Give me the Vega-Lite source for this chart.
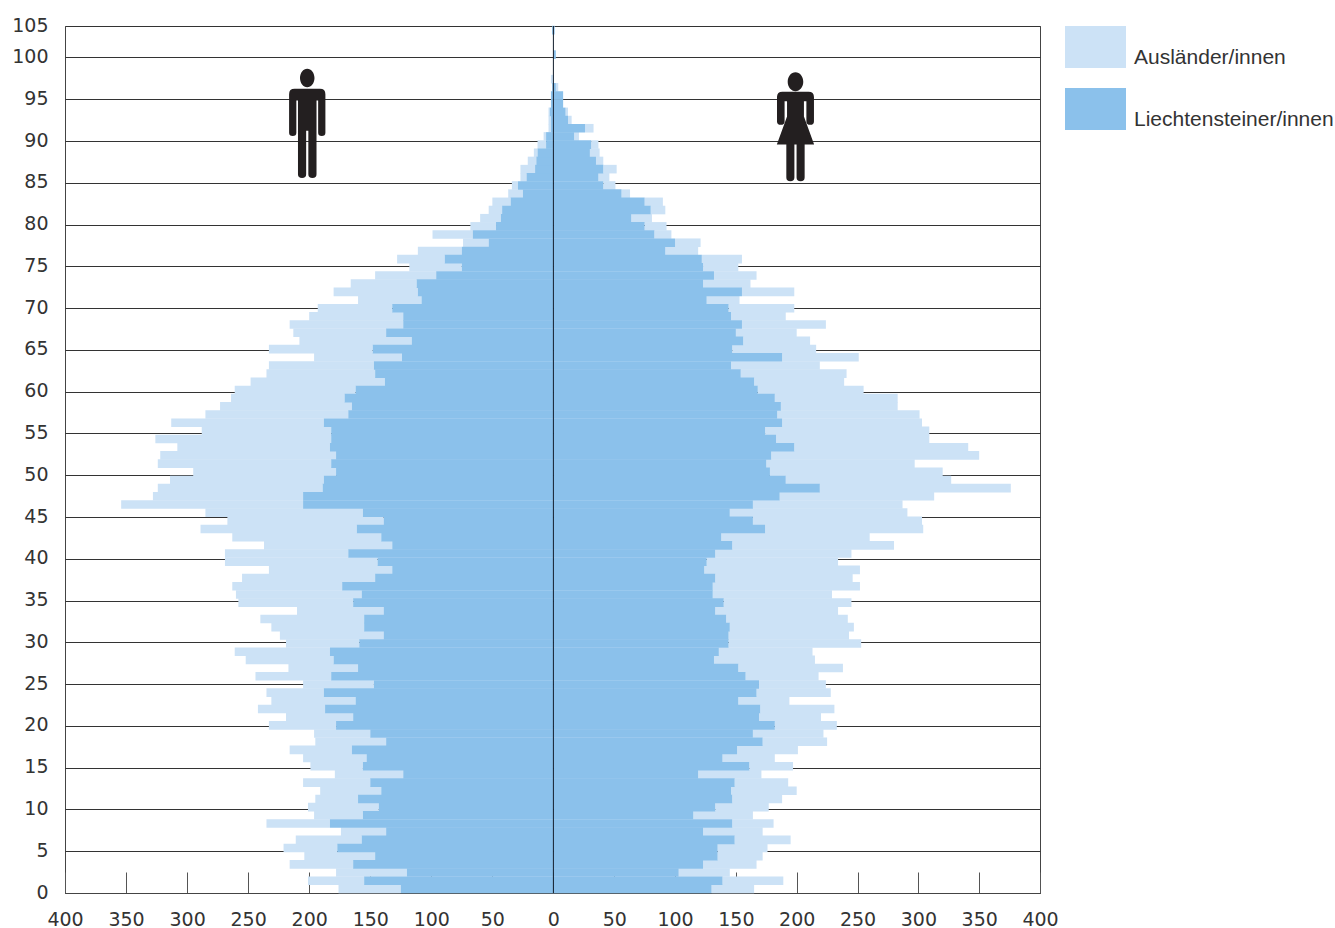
{"$schema":"https://vega.github.io/schema/vega-lite/v6.json","width":975,"height":867,"autosize":{"type":"none"},"padding":{"left":65,"top":26,"right":295,"bottom":35},"background":"white","config":{"view":{"stroke":"#444","strokeWidth":1},"axis":{"labelFont":"DejaVu Sans","labelFontSize":19,"labelColor":"#333"}},
"encoding":{"x":{"type":"quantitative","scale":{"domain":[-400,0,400],"range":[0,488.4,975]},"axis":{"title":null,"values":[-400,-350,-300,-250,-200,-150,-100,-50,0,50,100,150,200,250,300,350,400],"labelExpr":"abs(datum.value)","tickSize":-21,"tickColor":"#555","tickWidth":1,"domainColor":"#444","labelPadding":38,"labelFlush":false,"grid":false,"labelOverlap":false}}},
"layer":[
{"data":{"name":"pop"},"mark":{"type":"bar","stroke":null,"height":8.6},"encoding":{"y":{"field":"age","type":"ordinal","scale":{"type":"band","paddingInner":0,"paddingOuter":0,"domain":[105,104,103,102,101,100,99,98,97,96,95,94,93,92,91,90,89,88,87,86,85,84,83,82,81,80,79,78,77,76,75,74,73,72,71,70,69,68,67,66,65,64,63,62,61,60,59,58,57,56,55,54,53,52,51,50,49,48,47,46,45,44,43,42,41,40,39,38,37,36,35,34,33,32,31,30,29,28,27,26,25,24,23,22,21,20,19,18,17,16,15,14,13,12,11,10,9,8,7,6,5,4,3,2,1,0]},"axis":null},"x":{"field":"n","type":"quantitative","stack":"zero"},"detail":{"field":"sex"},"order":{"field":"group","sort":"descending"},"color":{"field":"group","type":"nominal","scale":{"domain":["A","L"],"range":["#CCE2F6","#8BC1EB"]},"legend":{"orient":"none","legendX":1000,"legendY":-9.5,"title":null,"symbolType":"M-1,-0.689H1V0.689H-1Z","symbolSize":3721,"symbolStrokeWidth":0,"symbolOpacity":1,"rowPadding":10,"labelOffset":8,"labelBaseline":"top","labelFont":"Liberation Sans","labelFontSize":21,"labelColor":"#333","labelLimit":300,"labelExpr":"datum.value=='A'?'Ausländer/innen':'Liechtensteiner/innen'"}}}},
{"data":{"values":[{}]},"mark":{"type":"rule","color":"#111d2b","strokeWidth":1},"encoding":{"x":{"datum":0,"type":"quantitative"}}},
{"data":{"values":[{"sex":"m","v":-201.6,"y":92.1},{"sex":"w","v":199,"y":91.7}]},"mark":{"type":"point","filled":true,"opacity":1,"size":11881,"color":"#231f20","stroke":null},"encoding":{"x":{"field":"v","type":"quantitative"},"y":{"field":"y","type":"quantitative","scale":{"domain":[0,103.77]},"axis":{"title":null,"values":[0,5,10,15,20,25,30,35,40,45,50,55,60,65,70,75,80,85,90,95,100,103.77],"labelExpr":"datum.value>101?'105':datum.value","grid":true,"gridColor":"#333","gridWidth":1,"domain":false,"ticks":false,"labelPadding":17,"labelOffset":-1,"labelOverlap":false}},"shape":{"field":"sex","type":"nominal","legend":null,"scale":{"domain":["m","w"],"range":["M-0.133,-0.836A0.133,0.17 0 1 1 0.133,-0.836A0.133,0.17 0 1 1 -0.133,-0.836ZM-0.233,-0.636H0.233Q0.333,-0.636 0.333,-0.536V0.17Q0.333,0.23 0.266,0.23Q0.2,0.23 0.2,0.17V-0.42H0.17V0.93Q0.17,1 0.095,1Q0.02,1 0.02,0.93V0.133H-0.02V0.93Q-0.02,1 -0.095,1Q-0.17,1 -0.17,0.93V-0.42H-0.2V0.17Q-0.2,0.23 -0.266,0.23Q-0.333,0.23 -0.333,0.17V-0.536Q-0.333,-0.636 -0.233,-0.636Z","M-0.143,-0.826A0.143,0.174 0 1 1 0.143,-0.826A0.143,0.174 0 1 1 -0.143,-0.826ZM-0.24,-0.646H0.24Q0.339,-0.646 0.339,-0.547V-0.1Q0.339,-0.037 0.27,-0.037Q0.2,-0.037 0.2,-0.1V-0.47H0.155V-0.19L0.342,0.323H0.168V0.93Q0.168,1 0.094,1Q0.02,1 0.02,0.93V0.323H-0.02V0.93Q-0.02,1 -0.094,1Q-0.168,1 -0.168,0.93V0.323H-0.342L-0.155,-0.19V-0.47H-0.2V-0.1Q-0.2,-0.037 -0.27,-0.037Q-0.339,-0.037 -0.339,-0.1V-0.547Q-0.339,-0.646 -0.24,-0.646Z"]}}}}
],
"resolve":{"scale":{"y":"independent"}},
"datasets":{"pop":[
{"age":0,"sex":"m","group":"A","n":-51},{"age":1,"sex":"m","group":"A","n":-46},{"age":2,"sex":"m","group":"A","n":-58},{"age":3,"sex":"m","group":"A","n":-52},{"age":4,"sex":"m","group":"A","n":-58},{"age":5,"sex":"m","group":"A","n":-44},{"age":6,"sex":"m","group":"A","n":-54},{"age":7,"sex":"m","group":"A","n":-37},{"age":8,"sex":"m","group":"A","n":-52},{"age":9,"sex":"m","group":"A","n":-40},
{"age":10,"sex":"m","group":"A","n":-58},{"age":11,"sex":"m","group":"A","n":-35},{"age":12,"sex":"m","group":"A","n":-50},{"age":13,"sex":"m","group":"A","n":-55},{"age":14,"sex":"m","group":"A","n":-56},{"age":15,"sex":"m","group":"A","n":-43},{"age":16,"sex":"m","group":"A","n":-52},{"age":17,"sex":"m","group":"A","n":-51},{"age":18,"sex":"m","group":"A","n":-58},{"age":19,"sex":"m","group":"A","n":-46},
{"age":20,"sex":"m","group":"A","n":-55},{"age":21,"sex":"m","group":"A","n":-55},{"age":22,"sex":"m","group":"A","n":-55},{"age":23,"sex":"m","group":"A","n":-69},{"age":24,"sex":"m","group":"A","n":-47},{"age":25,"sex":"m","group":"A","n":-58},{"age":26,"sex":"m","group":"A","n":-62},{"age":27,"sex":"m","group":"A","n":-57},{"age":28,"sex":"m","group":"A","n":-72},{"age":29,"sex":"m","group":"A","n":-78},
{"age":30,"sex":"m","group":"A","n":-60},{"age":31,"sex":"m","group":"A","n":-85},{"age":32,"sex":"m","group":"A","n":-76},{"age":33,"sex":"m","group":"A","n":-85},{"age":34,"sex":"m","group":"A","n":-71},{"age":35,"sex":"m","group":"A","n":-94},{"age":36,"sex":"m","group":"A","n":-103},{"age":37,"sex":"m","group":"A","n":-90},{"age":38,"sex":"m","group":"A","n":-109},{"age":39,"sex":"m","group":"A","n":-101},
{"age":40,"sex":"m","group":"A","n":-125},{"age":41,"sex":"m","group":"A","n":-101},{"age":42,"sex":"m","group":"A","n":-105},{"age":43,"sex":"m","group":"A","n":-122},{"age":44,"sex":"m","group":"A","n":-128},{"age":45,"sex":"m","group":"A","n":-128},{"age":46,"sex":"m","group":"A","n":-129},{"age":47,"sex":"m","group":"A","n":-149},{"age":48,"sex":"m","group":"A","n":-123},{"age":49,"sex":"m","group":"A","n":-135},
{"age":50,"sex":"m","group":"A","n":-126},{"age":51,"sex":"m","group":"A","n":-117},{"age":52,"sex":"m","group":"A","n":-142},{"age":53,"sex":"m","group":"A","n":-144},{"age":54,"sex":"m","group":"A","n":-125},{"age":55,"sex":"m","group":"A","n":-144},{"age":56,"sex":"m","group":"A","n":-106},{"age":57,"sex":"m","group":"A","n":-125},{"age":58,"sex":"m","group":"A","n":-117},{"age":59,"sex":"m","group":"A","n":-108},
{"age":60,"sex":"m","group":"A","n":-93},{"age":61,"sex":"m","group":"A","n":-99},{"age":62,"sex":"m","group":"A","n":-110},{"age":63,"sex":"m","group":"A","n":-89},{"age":64,"sex":"m","group":"A","n":-86},{"age":65,"sex":"m","group":"A","n":-72},{"age":66,"sex":"m","group":"A","n":-85},{"age":67,"sex":"m","group":"A","n":-92},{"age":68,"sex":"m","group":"A","n":-76},{"age":69,"sex":"m","group":"A","n":-93},
{"age":70,"sex":"m","group":"A","n":-77},{"age":71,"sex":"m","group":"A","n":-61},{"age":72,"sex":"m","group":"A","n":-52},{"age":73,"sex":"m","group":"A","n":-69},{"age":74,"sex":"m","group":"A","n":-54},{"age":75,"sex":"m","group":"A","n":-50},{"age":76,"sex":"m","group":"A","n":-43},{"age":77,"sex":"m","group":"A","n":-39},{"age":78,"sex":"m","group":"A","n":-36},{"age":79,"sex":"m","group":"A","n":-21},
{"age":80,"sex":"m","group":"A","n":-33},{"age":81,"sex":"m","group":"A","n":-21},{"age":82,"sex":"m","group":"A","n":-17},{"age":83,"sex":"m","group":"A","n":-11},{"age":84,"sex":"m","group":"A","n":-15},{"age":85,"sex":"m","group":"A","n":-12},{"age":86,"sex":"m","group":"A","n":-5},{"age":87,"sex":"m","group":"A","n":-5},{"age":88,"sex":"m","group":"A","n":-12},{"age":89,"sex":"m","group":"A","n":-7},
{"age":90,"sex":"m","group":"A","n":-3},{"age":91,"sex":"m","group":"A","n":-7},{"age":92,"sex":"m","group":"A","n":-2},{"age":93,"sex":"m","group":"A","n":-2},{"age":94,"sex":"m","group":"A","n":-2},{"age":95,"sex":"m","group":"A","n":-1},{"age":99,"sex":"m","group":"A","n":-2},
{"age":0,"sex":"w","group":"A","n":35},{"age":1,"sex":"w","group":"A","n":50},{"age":2,"sex":"w","group":"A","n":42},{"age":3,"sex":"w","group":"A","n":44},{"age":4,"sex":"w","group":"A","n":37},{"age":5,"sex":"w","group":"A","n":41},{"age":6,"sex":"w","group":"A","n":46},{"age":7,"sex":"w","group":"A","n":49},{"age":8,"sex":"w","group":"A","n":34},{"age":9,"sex":"w","group":"A","n":49},
{"age":10,"sex":"w","group":"A","n":44},{"age":11,"sex":"w","group":"A","n":41},{"age":12,"sex":"w","group":"A","n":54},{"age":13,"sex":"w","group":"A","n":44},{"age":14,"sex":"w","group":"A","n":52},{"age":15,"sex":"w","group":"A","n":36},{"age":16,"sex":"w","group":"A","n":43},{"age":17,"sex":"w","group":"A","n":50},{"age":18,"sex":"w","group":"A","n":53},{"age":19,"sex":"w","group":"A","n":58},
{"age":20,"sex":"w","group":"A","n":51},{"age":21,"sex":"w","group":"A","n":51},{"age":22,"sex":"w","group":"A","n":61},{"age":23,"sex":"w","group":"A","n":42},{"age":24,"sex":"w","group":"A","n":61},{"age":25,"sex":"w","group":"A","n":55},{"age":26,"sex":"w","group":"A","n":60},{"age":27,"sex":"w","group":"A","n":86},{"age":28,"sex":"w","group":"A","n":83},{"age":29,"sex":"w","group":"A","n":77},
{"age":30,"sex":"w","group":"A","n":109},{"age":31,"sex":"w","group":"A","n":99},{"age":32,"sex":"w","group":"A","n":102},{"age":33,"sex":"w","group":"A","n":100},{"age":34,"sex":"w","group":"A","n":101},{"age":35,"sex":"w","group":"A","n":105},{"age":36,"sex":"w","group":"A","n":98},{"age":37,"sex":"w","group":"A","n":121},{"age":38,"sex":"w","group":"A","n":113},{"age":39,"sex":"w","group":"A","n":128},
{"age":40,"sex":"w","group":"A","n":108},{"age":41,"sex":"w","group":"A","n":112},{"age":42,"sex":"w","group":"A","n":133},{"age":43,"sex":"w","group":"A","n":122},{"age":44,"sex":"w","group":"A","n":130},{"age":45,"sex":"w","group":"A","n":139},{"age":46,"sex":"w","group":"A","n":146},{"age":47,"sex":"w","group":"A","n":123},{"age":48,"sex":"w","group":"A","n":127},{"age":49,"sex":"w","group":"A","n":157},
{"age":50,"sex":"w","group":"A","n":136},{"age":51,"sex":"w","group":"A","n":142},{"age":52,"sex":"w","group":"A","n":122},{"age":53,"sex":"w","group":"A","n":171},{"age":54,"sex":"w","group":"A","n":143},{"age":55,"sex":"w","group":"A","n":126},{"age":56,"sex":"w","group":"A","n":135},{"age":57,"sex":"w","group":"A","n":115},{"age":58,"sex":"w","group":"A","n":117},{"age":59,"sex":"w","group":"A","n":96},
{"age":60,"sex":"w","group":"A","n":101},{"age":61,"sex":"w","group":"A","n":87},{"age":62,"sex":"w","group":"A","n":74},{"age":63,"sex":"w","group":"A","n":87},{"age":64,"sex":"w","group":"A","n":73},{"age":65,"sex":"w","group":"A","n":63},{"age":66,"sex":"w","group":"A","n":69},{"age":67,"sex":"w","group":"A","n":55},{"age":68,"sex":"w","group":"A","n":50},{"age":69,"sex":"w","group":"A","n":69},
{"age":70,"sex":"w","group":"A","n":45},{"age":71,"sex":"w","group":"A","n":54},{"age":72,"sex":"w","group":"A","n":27},{"age":73,"sex":"w","group":"A","n":43},{"age":74,"sex":"w","group":"A","n":39},{"age":75,"sex":"w","group":"A","n":35},{"age":76,"sex":"w","group":"A","n":29},{"age":77,"sex":"w","group":"A","n":33},{"age":78,"sex":"w","group":"A","n":27},{"age":79,"sex":"w","group":"A","n":21},
{"age":80,"sex":"w","group":"A","n":14},{"age":81,"sex":"w","group":"A","n":18},{"age":82,"sex":"w","group":"A","n":17},{"age":83,"sex":"w","group":"A","n":12},{"age":84,"sex":"w","group":"A","n":15},{"age":85,"sex":"w","group":"A","n":7},{"age":86,"sex":"w","group":"A","n":10},{"age":87,"sex":"w","group":"A","n":9},{"age":88,"sex":"w","group":"A","n":11},{"age":89,"sex":"w","group":"A","n":6},
{"age":90,"sex":"w","group":"A","n":8},{"age":91,"sex":"w","group":"A","n":6},{"age":92,"sex":"w","group":"A","n":4},{"age":93,"sex":"w","group":"A","n":7},{"age":94,"sex":"w","group":"A","n":3},{"age":95,"sex":"w","group":"A","n":2},{"age":98,"sex":"w","group":"A","n":2},
{"age":0,"sex":"m","group":"L","n":-125},{"age":1,"sex":"m","group":"L","n":-155},{"age":2,"sex":"m","group":"L","n":-120},{"age":3,"sex":"m","group":"L","n":-164},{"age":4,"sex":"m","group":"L","n":-146},{"age":5,"sex":"m","group":"L","n":-177},{"age":6,"sex":"m","group":"L","n":-157},{"age":7,"sex":"m","group":"L","n":-137},{"age":8,"sex":"m","group":"L","n":-183},{"age":9,"sex":"m","group":"L","n":-156},
{"age":10,"sex":"m","group":"L","n":-143},{"age":11,"sex":"m","group":"L","n":-160},{"age":12,"sex":"m","group":"L","n":-141},{"age":13,"sex":"m","group":"L","n":-150},{"age":14,"sex":"m","group":"L","n":-123},{"age":15,"sex":"m","group":"L","n":-156},{"age":16,"sex":"m","group":"L","n":-153},{"age":17,"sex":"m","group":"L","n":-165},{"age":18,"sex":"m","group":"L","n":-137},{"age":19,"sex":"m","group":"L","n":-150},
{"age":20,"sex":"m","group":"L","n":-178},{"age":21,"sex":"m","group":"L","n":-164},{"age":22,"sex":"m","group":"L","n":-187},{"age":23,"sex":"m","group":"L","n":-162},{"age":24,"sex":"m","group":"L","n":-188},{"age":25,"sex":"m","group":"L","n":-147},{"age":26,"sex":"m","group":"L","n":-182},{"age":27,"sex":"m","group":"L","n":-160},{"age":28,"sex":"m","group":"L","n":-180},{"age":29,"sex":"m","group":"L","n":-183},
{"age":30,"sex":"m","group":"L","n":-159},{"age":31,"sex":"m","group":"L","n":-139},{"age":32,"sex":"m","group":"L","n":-155},{"age":33,"sex":"m","group":"L","n":-155},{"age":34,"sex":"m","group":"L","n":-139},{"age":35,"sex":"m","group":"L","n":-164},{"age":36,"sex":"m","group":"L","n":-157},{"age":37,"sex":"m","group":"L","n":-173},{"age":38,"sex":"m","group":"L","n":-146},{"age":39,"sex":"m","group":"L","n":-132},
{"age":40,"sex":"m","group":"L","n":-144},{"age":41,"sex":"m","group":"L","n":-168},{"age":42,"sex":"m","group":"L","n":-132},{"age":43,"sex":"m","group":"L","n":-141},{"age":44,"sex":"m","group":"L","n":-161},{"age":45,"sex":"m","group":"L","n":-139},{"age":46,"sex":"m","group":"L","n":-156},{"age":47,"sex":"m","group":"L","n":-205},{"age":48,"sex":"m","group":"L","n":-205},{"age":49,"sex":"m","group":"L","n":-189},
{"age":50,"sex":"m","group":"L","n":-188},{"age":51,"sex":"m","group":"L","n":-178},{"age":52,"sex":"m","group":"L","n":-182},{"age":53,"sex":"m","group":"L","n":-178},{"age":54,"sex":"m","group":"L","n":-183},{"age":55,"sex":"m","group":"L","n":-182},{"age":56,"sex":"m","group":"L","n":-182},{"age":57,"sex":"m","group":"L","n":-188},{"age":58,"sex":"m","group":"L","n":-168},{"age":59,"sex":"m","group":"L","n":-165},
{"age":60,"sex":"m","group":"L","n":-171},{"age":61,"sex":"m","group":"L","n":-162},{"age":62,"sex":"m","group":"L","n":-138},{"age":63,"sex":"m","group":"L","n":-146},{"age":64,"sex":"m","group":"L","n":-147},{"age":65,"sex":"m","group":"L","n":-124},{"age":66,"sex":"m","group":"L","n":-148},{"age":67,"sex":"m","group":"L","n":-116},{"age":68,"sex":"m","group":"L","n":-137},{"age":69,"sex":"m","group":"L","n":-123},
{"age":70,"sex":"m","group":"L","n":-123},{"age":71,"sex":"m","group":"L","n":-132},{"age":72,"sex":"m","group":"L","n":-108},{"age":73,"sex":"m","group":"L","n":-111},{"age":74,"sex":"m","group":"L","n":-112},{"age":75,"sex":"m","group":"L","n":-96},{"age":76,"sex":"m","group":"L","n":-75},{"age":77,"sex":"m","group":"L","n":-89},{"age":78,"sex":"m","group":"L","n":-75},{"age":79,"sex":"m","group":"L","n":-53},
{"age":80,"sex":"m","group":"L","n":-66},{"age":81,"sex":"m","group":"L","n":-47},{"age":82,"sex":"m","group":"L","n":-43},{"age":83,"sex":"m","group":"L","n":-42},{"age":84,"sex":"m","group":"L","n":-35},{"age":85,"sex":"m","group":"L","n":-25},{"age":86,"sex":"m","group":"L","n":-29},{"age":87,"sex":"m","group":"L","n":-22},{"age":88,"sex":"m","group":"L","n":-15},{"age":89,"sex":"m","group":"L","n":-14},
{"age":90,"sex":"m","group":"L","n":-13},{"age":91,"sex":"m","group":"L","n":-6},{"age":92,"sex":"m","group":"L","n":-6},{"age":93,"sex":"m","group":"L","n":-2},{"age":94,"sex":"m","group":"L","n":-2},{"age":95,"sex":"m","group":"L","n":-3},{"age":96,"sex":"m","group":"L","n":-2},{"age":97,"sex":"m","group":"L","n":-2},{"age":98,"sex":"m","group":"L","n":-1},{"age":105,"sex":"m","group":"L","n":-1},
{"age":0,"sex":"w","group":"L","n":130},{"age":1,"sex":"w","group":"L","n":139},{"age":2,"sex":"w","group":"L","n":103},{"age":3,"sex":"w","group":"L","n":123},{"age":4,"sex":"w","group":"L","n":135},{"age":5,"sex":"w","group":"L","n":135},{"age":6,"sex":"w","group":"L","n":149},{"age":7,"sex":"w","group":"L","n":123},{"age":8,"sex":"w","group":"L","n":147},{"age":9,"sex":"w","group":"L","n":115},
{"age":10,"sex":"w","group":"L","n":133},{"age":11,"sex":"w","group":"L","n":147},{"age":12,"sex":"w","group":"L","n":146},{"age":13,"sex":"w","group":"L","n":149},{"age":14,"sex":"w","group":"L","n":119},{"age":15,"sex":"w","group":"L","n":161},{"age":16,"sex":"w","group":"L","n":139},{"age":17,"sex":"w","group":"L","n":151},{"age":18,"sex":"w","group":"L","n":172},{"age":19,"sex":"w","group":"L","n":164},
{"age":20,"sex":"w","group":"L","n":182},{"age":21,"sex":"w","group":"L","n":169},{"age":22,"sex":"w","group":"L","n":170},{"age":23,"sex":"w","group":"L","n":152},{"age":24,"sex":"w","group":"L","n":167},{"age":25,"sex":"w","group":"L","n":169},{"age":26,"sex":"w","group":"L","n":158},{"age":27,"sex":"w","group":"L","n":152},{"age":28,"sex":"w","group":"L","n":132},{"age":29,"sex":"w","group":"L","n":136},
{"age":30,"sex":"w","group":"L","n":144},{"age":31,"sex":"w","group":"L","n":144},{"age":32,"sex":"w","group":"L","n":145},{"age":33,"sex":"w","group":"L","n":142},{"age":34,"sex":"w","group":"L","n":133},{"age":35,"sex":"w","group":"L","n":140},{"age":36,"sex":"w","group":"L","n":131},{"age":37,"sex":"w","group":"L","n":131},{"age":38,"sex":"w","group":"L","n":133},{"age":39,"sex":"w","group":"L","n":124},
{"age":40,"sex":"w","group":"L","n":126},{"age":41,"sex":"w","group":"L","n":133},{"age":42,"sex":"w","group":"L","n":147},{"age":43,"sex":"w","group":"L","n":138},{"age":44,"sex":"w","group":"L","n":174},{"age":45,"sex":"w","group":"L","n":164},{"age":46,"sex":"w","group":"L","n":145},{"age":47,"sex":"w","group":"L","n":164},{"age":48,"sex":"w","group":"L","n":186},{"age":49,"sex":"w","group":"L","n":219},
{"age":50,"sex":"w","group":"L","n":191},{"age":51,"sex":"w","group":"L","n":178},{"age":52,"sex":"w","group":"L","n":175},{"age":53,"sex":"w","group":"L","n":179},{"age":54,"sex":"w","group":"L","n":198},{"age":55,"sex":"w","group":"L","n":183},{"age":56,"sex":"w","group":"L","n":174},{"age":57,"sex":"w","group":"L","n":188},{"age":58,"sex":"w","group":"L","n":184},{"age":59,"sex":"w","group":"L","n":187},
{"age":60,"sex":"w","group":"L","n":182},{"age":61,"sex":"w","group":"L","n":168},{"age":62,"sex":"w","group":"L","n":165},{"age":63,"sex":"w","group":"L","n":154},{"age":64,"sex":"w","group":"L","n":146},{"age":65,"sex":"w","group":"L","n":188},{"age":66,"sex":"w","group":"L","n":147},{"age":67,"sex":"w","group":"L","n":156},{"age":68,"sex":"w","group":"L","n":150},{"age":69,"sex":"w","group":"L","n":155},
{"age":70,"sex":"w","group":"L","n":146},{"age":71,"sex":"w","group":"L","n":144},{"age":72,"sex":"w","group":"L","n":126},{"age":73,"sex":"w","group":"L","n":155},{"age":74,"sex":"w","group":"L","n":123},{"age":75,"sex":"w","group":"L","n":132},{"age":76,"sex":"w","group":"L","n":123},{"age":77,"sex":"w","group":"L","n":122},{"age":78,"sex":"w","group":"L","n":92},{"age":79,"sex":"w","group":"L","n":100},
{"age":80,"sex":"w","group":"L","n":83},{"age":81,"sex":"w","group":"L","n":75},{"age":82,"sex":"w","group":"L","n":64},{"age":83,"sex":"w","group":"L","n":80},{"age":84,"sex":"w","group":"L","n":75},{"age":85,"sex":"w","group":"L","n":56},{"age":86,"sex":"w","group":"L","n":41},{"age":87,"sex":"w","group":"L","n":37},{"age":88,"sex":"w","group":"L","n":41},{"age":89,"sex":"w","group":"L","n":35},
{"age":90,"sex":"w","group":"L","n":30},{"age":91,"sex":"w","group":"L","n":31},{"age":92,"sex":"w","group":"L","n":17},{"age":93,"sex":"w","group":"L","n":26},{"age":94,"sex":"w","group":"L","n":12},{"age":95,"sex":"w","group":"L","n":10},{"age":96,"sex":"w","group":"L","n":8},{"age":97,"sex":"w","group":"L","n":8},{"age":98,"sex":"w","group":"L","n":2},{"age":102,"sex":"w","group":"L","n":2},{"age":105,"sex":"w","group":"L","n":1}
]}}
